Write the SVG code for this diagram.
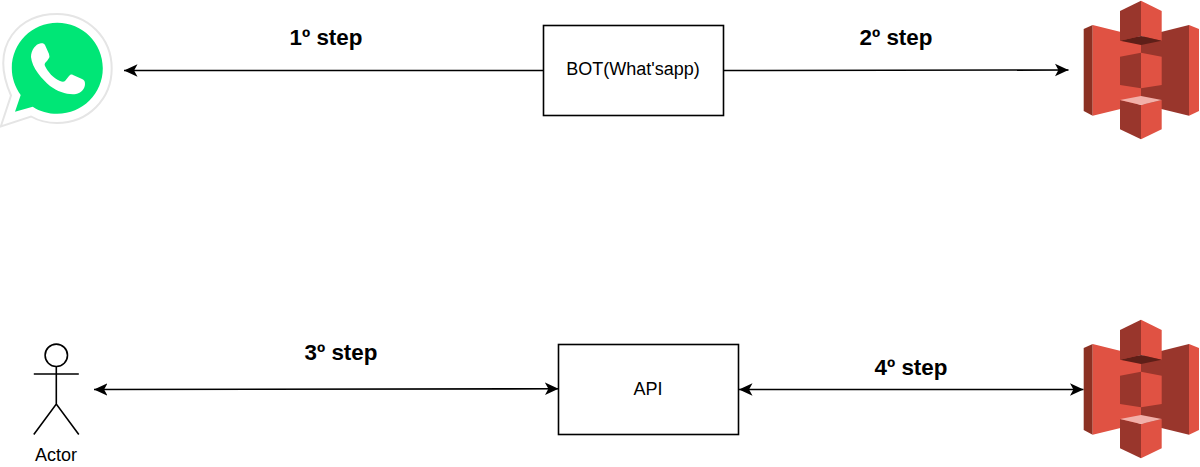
<svg xmlns="http://www.w3.org/2000/svg" xmlns:xlink="http://www.w3.org/1999/xlink" width="1200" height="467" viewBox="0 0 1200 467">
<style>
text{font-family:"Liberation Sans",Arial,sans-serif;fill:#000;text-anchor:middle}
.n{font-size:18px}
.s{font-size:22.400px;font-weight:bold}
.b{fill:#fff;stroke:#000;stroke-width:1.6}
.c{fill:none;stroke:#000;stroke-width:1.6}
.a{fill:#E05243}.d{fill:#8C3123}.m{fill:#99362C}
</style>
<defs>
<marker id="ae" markerUnits="userSpaceOnUse" markerWidth="15" markerHeight="14" refX="13.500" refY="7" orient="auto-start-reverse"><path d="M0 .8L13.500 7L0 13.200L3.400 7Z" fill="#000"/></marker>
<g id="s3">
<path class="d" d="M1083.700 29L1092.700 25V115.700L1083.700 111Z"/>
<path class="a" d="M1092.700 25L1141 37V104L1092.700 115.700Z"/>
<path class="m" d="M1141 37L1189 25V115.700L1141 104Z"/>
<path class="a" d="M1189 25L1199 29V111L1189 115.700Z"/>
<path class="m" d="M1120 11L1141 .7V36L1120 40.700Z"/>
<path class="a" d="M1141 .7L1161.700 11V40.700L1141 36Z"/>
<path d="M1120 40.700L1141 36L1161.700 40.700L1141 45Z" fill="#5E1F18"/>
<path class="m" d="M1120 56.700L1141 52.700V88.300L1120 85Z"/>
<path class="a" d="M1141 52.700L1161.700 56.700V85L1141 88.300Z"/>
<path class="m" d="M1120 100L1141 105V139.300L1120 129.300Z"/>
<path class="a" d="M1141 105L1161.700 100V129.300L1141 139.300Z"/>
<path d="M1120 100L1141 96L1161.700 100L1141 105Z" fill="#F2B0A9"/>
</g>
</defs>
<g id="connectors">
<path class="c" d="M543.500 70.500H124" marker-end="url(#ae)"/>
<path class="c" d="M724 70.500L1068.500 70" marker-end="url(#ae)"/>
<path class="c" d="M94 389.500L558.500 388.800" marker-start="url(#ae)" marker-end="url(#ae)"/>
<path class="c" d="M739 389.500H1083.500" marker-start="url(#ae)" marker-end="url(#ae)"/>
</g>
<g id="label-1"><text class="s" x="326" y="45">1º step</text></g>
<g id="label-2"><text class="s" x="896" y="45">2º step</text></g>
<g id="label-3"><text class="s" x="341" y="360">3º step</text></g>
<g id="label-4"><text class="s" x="911" y="375">4º step</text></g>
<g id="bot"><rect class="b" x="543.500" y="25.500" width="180" height="90"/><text class="n" x="633" y="75">BOT(What'sapp)</text></g>
<g id="api"><rect class="b" x="558.500" y="344.500" width="180" height="90"/><text class="n" x="648" y="395">API</text></g>
<g id="whatsapp">
<path d="M.8 126.500L11 95.500C-1 68 2.700 48 12 35C23 20 40 14 57 14C88 14 111.700 38 111.700 68.500C111.700 99 88 123 57 123C47 123 39 121 31 116.500Z" fill="#fff" stroke="#e5e5e5" stroke-width="2"/>
<path d="M15 111.700L20.700 95C15 87 11.800 78 11.800 68.300C11.800 43 32 22.800 57.300 22.800C82.500 22.800 102.800 43 102.800 68.300C102.800 93.500 82.500 113.800 57.300 113.800C48 113.800 40 111.500 32.700 106.700Z" fill="#00E676"/>
<path d="M40 43.500C36 44 31 50 31 57C32 68 42 79 50 86C58 92 68 95 76 94C81 93 85 89 85 84C85 81 84 80 82 79L73 75C71 74 70 75 69 76L65 81C64 82 62 82 60 81C53 78 48 72 45 66C44 64 45 63 47 61L49 58C50 57 49 55 49 54L45 45C44 43 42 43 40 43.500Z" fill="#fff"/>
</g>
<g id="s3-top"><use xlink:href="#s3" href="#s3"/></g>
<g id="s3-bottom"><use xlink:href="#s3" href="#s3" y="319"/></g>
<g id="actor">
<circle class="b" cx="56.300" cy="355.300" r="11.200"/>
<path class="c" d="M56.300 366.500V404M33.800 374H78.800M33.800 434.500L56.300 404L78.800 434.500"/>
<text class="n" x="56" y="461">Actor</text>
</g>
</svg>
